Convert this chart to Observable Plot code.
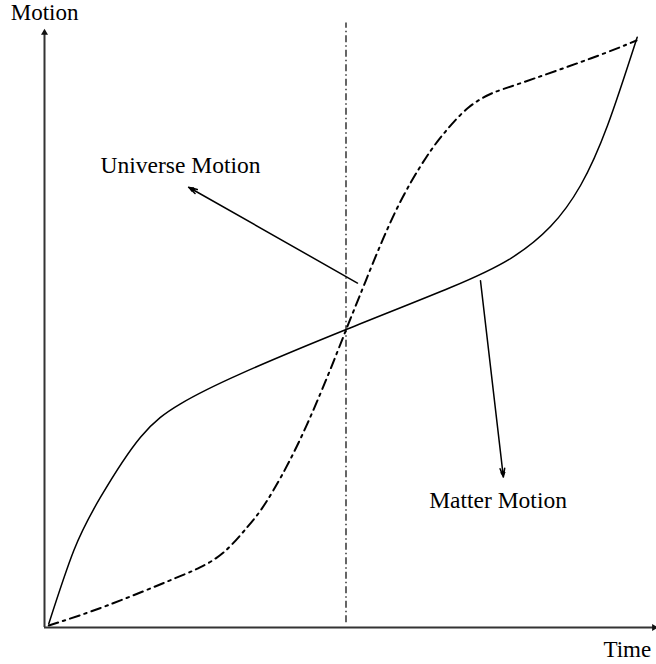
<!DOCTYPE html>
<html>
<head>
<meta charset="utf-8">
<script src="https://cdn.jsdelivr.net/npm/d3@7"></script>
<script src="https://cdn.jsdelivr.net/npm/@observablehq/plot@0.6"></script>
<style>
  html, body { margin: 0; padding: 0; background: #fff; }
  #chart svg { display: block; }
</style>
</head>
<body>
<div id="chart"></div>
<script>
// Matter Motion (solid curve): time, motion
const matterTime   = [0.071, 0.486, 0.929, 1.592, 2.255, 3.250, 5.003, 6.733, 7.728, 8.391, 8.889, 9.337, 9.829];
const matterMotion = [0.062, 1.285, 2.175, 3.177, 3.735, 4.235, 4.975, 5.676, 6.160, 6.694, 7.379, 8.381, 9.855];

// Universe Motion (dash-dot curve): time, motion
const universeTime   = [0.071, 1.040, 2.144, 2.587, 2.973, 3.362, 3.693, 4.191, 4.688, 5.003, 5.323, 5.821, 6.318, 6.650, 7.032, 7.413, 7.861, 9.055, 9.818];
const universeMotion = [0.033, 0.367, 0.813, 1.007, 1.257, 1.674, 2.120, 3.038, 4.179, 4.975, 5.776, 6.945, 7.830, 8.280, 8.681, 8.915, 9.075, 9.499, 9.800];

// Vertical reference line at the crossing time
const crossTime = 5;
const crossLineTop = 10.09;

// Axis extents
const xAxisEnd = 10.18;
const yAxisEnd = 10.0;

// Axis labels
const axisLabels = [
  {text: "Motion", x: -0.56, y: 10.15},
  {text: "Time",   x: 9.27,  y: -0.50}
];

// Annotations (label + arrow from curve toward label; head = filled tip)
const annotations = [
  {text: "Universe Motion", x: 0.93, y: 7.58, ax1: 5.19, ay1: 5.75, ax2: 2.39, ay2: 7.35, hx: 2.438, hy: 7.323, rot: -60.6},
  {text: "Matter Motion",   x: 6.38, y: 2.00, ax1: 7.23, ay1: 5.79, ax2: 7.61, ay2: 2.51, hx: 7.604, hy: 2.565, rot: 173.4}
];

const matter = matterTime.map((t, i) => ({t, m: matterMotion[i]}));
const universe = universeTime.map((t, i) => ({t, m: universeMotion[i]}));

const font = "'Liberation Serif', 'Times New Roman', serif";
const axisColor = "#333";

const chart = Plot.plot({
  width: 656,
  height: 664,
  marginLeft: 44,
  marginRight: 9,
  marginTop: 28,
  marginBottom: 37,
  x: {domain: [0, 10], axis: null},
  y: {domain: [0, 10], axis: null},
  style: {background: "#fff", fontFamily: font},
  marks: [
    // axes
    Plot.ruleY([0], {x1: 0, x2: xAxisEnd - 0.05, stroke: axisColor, strokeWidth: 2}),
    Plot.ruleX([0], {y1: 0, y2: yAxisEnd - 0.05, stroke: axisColor, strokeWidth: 2}),
    Plot.dot([{x: xAxisEnd - 0.07, y: 0}], {x: "x", y: "y", symbol: "triangle", r: 2.6, fill: "#111", stroke: "none", rotate: 90}),
    Plot.dot([{x: 0, y: yAxisEnd - 0.07}], {x: "x", y: "y", symbol: "triangle", r: 2.6, fill: "#111", stroke: "none", rotate: 0}),
    // vertical dash-dot line
    Plot.ruleX([crossTime], {y1: 0.08, y2: crossLineTop, stroke: "#000", strokeWidth: 1.2, strokeDasharray: "7,3,1.5,3"}),
    // curves
    Plot.line(matter, {x: "t", y: "m", curve: "natural", stroke: "#000", strokeWidth: 1.5}),
    Plot.line(universe, {x: "t", y: "m", curve: "natural", stroke: "#000", strokeWidth: 2, strokeDasharray: "10,5,2.5,5"}),
    // annotation arrows
    Plot.arrow(annotations, {x1: "ax1", y1: "ay1", x2: "ax2", y2: "ay2", stroke: "#000", strokeWidth: 1.5, headLength: 9, headAngle: 30}),
    Plot.dot(annotations, {x: "hx", y: "hy", symbol: "triangle", r: 2.1, fill: "#000", stroke: "none", rotate: "rot"}),
    // texts
    Plot.text(annotations, {x: "x", y: "y", text: "text", textAnchor: "start", lineAnchor: "bottom", fontSize: 23.5, fontFamily: font, fill: "#000"}),
    Plot.text(axisLabels, {x: "x", y: "y", text: "text", textAnchor: "start", lineAnchor: "bottom", fontSize: 23, fontFamily: font, fill: "#000"})
  ]
});

document.getElementById("chart").appendChild(chart);
</script>
</body>
</html>
